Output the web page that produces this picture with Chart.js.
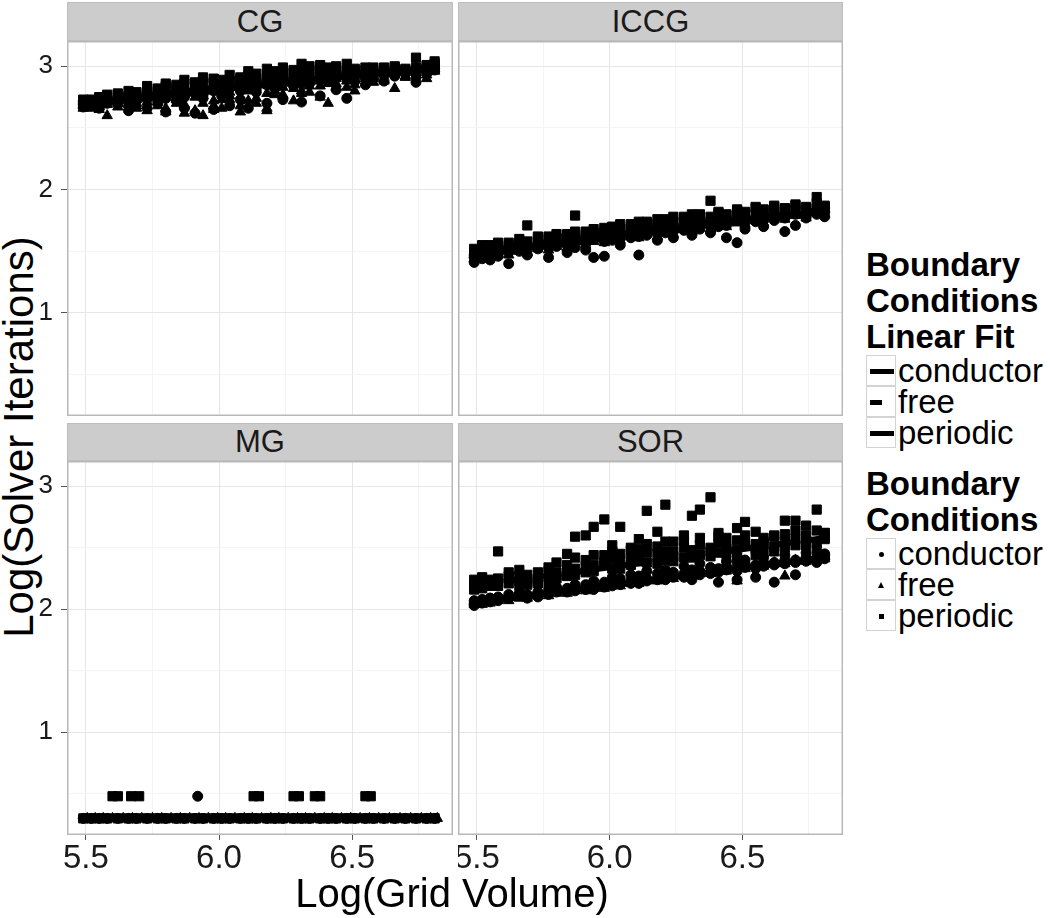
<!DOCTYPE html>
<html lang="en">
<head>
<meta charset="UTF-8">
<title>Solver iterations vs grid volume</title>
<script src="https://cdn.jsdelivr.net/npm/chart.js"></script>
<style>
  body { margin: 0; background: #fff; font-family: 'Liberation Sans', Arial, Helvetica, sans-serif; color: #000; }
  #fig { position: relative; width: 1050px; height: 918px; overflow: hidden; }
  #fig canvas { position: absolute; }
  .strip { position: absolute; box-sizing: border-box; background: #cccccc; border: 1px solid #bdbdbd;
           font-size: 31px; color: #1a1a1a; display: flex; align-items: center; justify-content: center; }
  .ytitle { position: absolute; left: -281px; top: 416px; width: 600px; height: 42px; line-height: 42px;
            font-size: 42px; text-align: center; transform: rotate(-90deg); white-space: nowrap; }
  .xtitle { position: absolute; left: 152px; top: 873px; width: 600px; height: 40px; line-height: 40px;
            font-size: 40px; text-align: center; white-space: nowrap; }
  .legend { position: absolute; left: 866px; }
  .ltitle { font-weight: bold; font-size: 33px; line-height: 36px; white-space: nowrap; }
  .lrow { position: relative; height: 31px; line-height: 31px; font-size: 33px; padding-left: 32px; white-space: nowrap; }
  .key { position: absolute; left: 0; top: 0; width: 30px; height: 31px; box-sizing: border-box; border: 1px solid #d3d3d3; }
  .key i { position: absolute; background: #000; }
  .key .bar { left: 3px; top: 13px; width: 24px; height: 5px; }
  .key .dash { left: 3px; top: 13px; width: 12px; height: 5px; }
  .key .dot { left: 12px; top: 13px; width: 5px; height: 5px; border-radius: 50%; }
  .key .sq { left: 12px; top: 13px; width: 5px; height: 5px; }
  .key .tri { left: 11px; top: 12px; width: 0; height: 0; background: none;
              border-left: 3.5px solid transparent; border-right: 3.5px solid transparent; border-bottom: 6px solid #000; }
</style>
</head>
<body>
<div id="fig">
  <div class="ytitle">Log(Solver Iterations)</div>

  <div class="strip" style="left:67px;top:2px;width:386px;height:39px">CG</div>
  <div class="strip" style="left:458px;top:2px;width:385px;height:39px">ICCG</div>
  <div class="strip" style="left:67px;top:423px;width:386px;height:38px">MG</div>
  <div class="strip" style="left:458px;top:423px;width:385px;height:38px">SOR</div>

  <canvas id="cgChart" width="453" height="375" style="left:0;top:41px"></canvas>
  <canvas id="iccgChart" width="385" height="375" style="left:458px;top:41px"></canvas>
  <canvas id="mgChart" width="453" height="419" style="left:0;top:461px"></canvas>
  <canvas id="sorChart" width="385" height="419" style="left:458px;top:461px"></canvas>

  <div class="xtitle">Log(Grid Volume)</div>

  <div class="legend" style="top:247px">
    <div class="ltitle">Boundary<br>Conditions<br>Linear Fit</div>
    <div class="lrow"><span class="key"><i class="bar"></i></span>conductor</div>
    <div class="lrow"><span class="key"><i class="dash"></i></span>free</div>
    <div class="lrow"><span class="key"><i class="bar"></i></span>periodic</div>
  </div>
  <div class="legend" style="top:466px">
    <div class="ltitle">Boundary<br>Conditions</div>
    <div class="lrow"><span class="key"><i class="dot"></i></span>conductor</div>
    <div class="lrow"><span class="key"><i class="tri"></i></span>free</div>
    <div class="lrow"><span class="key"><i class="sq"></i></span>periodic</div>
  </div>
</div>

<script>
    // log10 of grid volume for each run
    const gridVolume = [5.49, 5.52, 5.55, 5.58, 5.62, 5.66, 5.69, 5.73, 5.77, 5.80, 5.84, 5.87, 5.91,
        5.94, 5.98, 6.01, 6.04, 6.08, 6.11, 6.14, 6.18, 6.21, 6.24, 6.28, 6.31, 6.34, 6.38, 6.41,
        6.44, 6.48, 6.51, 6.55, 6.58, 6.62, 6.66, 6.70, 6.74, 6.78, 6.81];
    const gridVolumeB = [5.505, 5.535, 5.565, 5.60, 5.64, 5.675, 5.71, 5.75, 5.785, 5.82, 5.855, 5.89, 5.925,
        5.96, 5.995, 6.025, 6.06, 6.095, 6.125, 6.16, 6.195, 6.225, 6.26, 6.295, 6.325, 6.36, 6.395, 6.425,
        6.46, 6.495, 6.53, 6.565, 6.60, 6.64, 6.68, 6.72, 6.76, 6.795, 6.82];

    // CG
    const cgCondA = [2.70, 2.68, 2.72, 2.70, 2.74, 2.71, 2.76, 2.73, 2.78, 2.74, 2.80, 2.75, 2.81, 2.77, 2.83, 2.79, 2.84, 2.80, 2.87, 2.82, 2.89, 2.84, 2.90, 2.85, 2.92, 2.87, 2.93, 2.88, 2.95, 2.90, 2.94, 2.91, 2.96, 2.93, 2.97, 2.95, 2.98, 2.96, 3.01];
    const cgCondB = [2.67, 2.69, 2.66, 2.71, 2.69, 2.64, 2.72, 2.66, 2.70, 2.63, 2.72, 2.66, 2.62, 2.74, 2.65, 2.76, 2.68, 2.73, 2.66, 2.79, 2.70, 2.82, 2.73, 2.84, 2.71, 2.86, 2.76, 2.89, 2.81, 2.74, 2.88, 2.85, 2.90, 2.88, 2.92, 2.94, 2.87, 2.95, 2.97];
    const cgCondC = [2.72, 2.71, 2.69, 2.74, 2.72, 2.76, 2.74, 2.78, 2.75, 2.79, 2.77, 2.81, 2.78, 2.83, 2.80, 2.85, 2.82, 2.86, 2.84, 2.88, 2.85, 2.87, 2.88, 2.90, 2.88, 2.91, 2.90, 2.93, 2.91, 2.94, 2.92, 2.95, 2.94, 2.96, 2.95, 2.97, 2.97, 2.99, 2.98];
    const cgFreeA = [2.68, 2.66, 2.70, 2.60, 2.72, 2.69, 2.66, 2.71, 2.74, 2.63, 2.70, 2.62, 2.64, 2.60, 2.72, 2.66, 2.76, 2.63, 2.80, 2.70, 2.64, 2.77, 2.83, 2.72, 2.85, 2.79, 2.88, 2.70, 2.90, 2.83, 2.80, 2.92, 2.87, 2.94, 2.82, 2.96, 2.93, 2.90, 2.98];
    const cgFreeB = [2.71, 2.69, 2.67, 2.73, 2.70, 2.74, 2.70, 2.76, 2.68, 2.78, 2.73, 2.69, 2.79, 2.76, 2.68, 2.81, 2.73, 2.84, 2.72, 2.86, 2.78, 2.83, 2.76, 2.88, 2.80, 2.90, 2.84, 2.92, 2.86, 2.93, 2.89, 2.95, 2.90, 2.88, 2.96, 2.92, 2.99, 2.95, 2.97];
    const cgFreeC = [2.66, 2.68, 2.65, 2.69, 2.67, 2.70, 2.68, 2.64, 2.71, 2.66, 2.74, 2.68, 2.75, 2.70, 2.65, 2.73, 2.79, 2.68, 2.81, 2.74, 2.66, 2.80, 2.77, 2.82, 2.78, 2.84, 2.75, 2.86, 2.83, 2.88, 2.85, 2.90, 2.92, 2.89, 2.94, 2.91, 2.95, 2.93, 2.96];
    const cgPerA = [2.72, 2.73, 2.74, 2.75, 2.77, 2.76, 2.79, 2.82, 2.80, 2.84, 2.83, 2.86, 2.85, 2.88, 2.87, 2.89, 2.88, 2.91, 2.92, 2.90, 2.94, 2.96, 2.93, 2.97, 2.95, 3.00, 2.97, 2.99, 3.00, 2.96, 2.98, 2.97, 2.99, 2.95, 3.00, 2.96, 3.07, 2.98, 3.04];
    const cgPerB = [2.69, 2.71, 2.70, 2.73, 2.72, 2.75, 2.74, 2.77, 2.79, 2.76, 2.81, 2.78, 2.84, 2.80, 2.86, 2.83, 2.88, 2.85, 2.89, 2.87, 2.91, 2.88, 2.95, 2.90, 2.96, 2.92, 2.98, 2.93, 2.97, 2.94, 2.96, 2.93, 2.95, 2.97, 2.99, 2.97, 2.93, 3.00, 3.02];
    const cgPerC = [2.73, 2.70, 2.75, 2.77, 2.78, 2.80, 2.77, 2.84, 2.82, 2.86, 2.85, 2.89, 2.87, 2.91, 2.90, 2.86, 2.93, 2.89, 2.96, 2.94, 2.98, 2.92, 2.99, 2.95, 3.02, 2.97, 3.01, 2.96, 2.99, 3.02, 2.95, 2.99, 2.97, 2.99, 2.97, 2.98, 2.99, 3.01, 3.00];

    // ICCG
    const iccgCondA = [1.45, 1.49, 1.47, 1.52, 1.49, 1.55, 1.51, 1.56, 1.53, 1.58, 1.55, 1.60, 1.56, 1.62, 1.58, 1.64, 1.60, 1.66, 1.62, 1.67, 1.64, 1.69, 1.66, 1.71, 1.67, 1.73, 1.70, 1.74, 1.71, 1.76, 1.73, 1.77, 1.75, 1.79, 1.77, 1.81, 1.79, 1.83, 1.82];
    const iccgCondB = [1.41, 1.44, 1.43, 1.46, 1.40, 1.50, 1.47, 1.52, 1.45, 1.54, 1.49, 1.53, 1.51, 1.45, 1.46, 1.59, 1.55, 1.61, 1.47, 1.63, 1.59, 1.65, 1.61, 1.67, 1.63, 1.68, 1.65, 1.70, 1.61, 1.57, 1.68, 1.74, 1.70, 1.75, 1.66, 1.71, 1.77, 1.80, 1.78];
    const iccgCondC = [1.47, 1.50, 1.48, 1.51, 1.53, 1.52, 1.56, 1.54, 1.57, 1.56, 1.59, 1.58, 1.61, 1.60, 1.63, 1.62, 1.65, 1.64, 1.67, 1.66, 1.69, 1.68, 1.71, 1.70, 1.72, 1.71, 1.74, 1.73, 1.76, 1.75, 1.78, 1.77, 1.80, 1.78, 1.81, 1.80, 1.83, 1.82, 1.85];
    const iccgFreeA = [1.47, 1.46, 1.50, 1.48, 1.52, 1.50, 1.54, 1.52, 1.56, 1.54, 1.58, 1.56, 1.60, 1.58, 1.62, 1.60, 1.64, 1.62, 1.66, 1.64, 1.68, 1.66, 1.70, 1.68, 1.72, 1.69, 1.73, 1.71, 1.75, 1.73, 1.77, 1.75, 1.79, 1.77, 1.81, 1.79, 1.82, 1.81, 1.84];
    const iccgFreeB = [1.44, 1.48, 1.46, 1.50, 1.47, 1.53, 1.49, 1.55, 1.51, 1.57, 1.53, 1.59, 1.55, 1.61, 1.57, 1.63, 1.59, 1.64, 1.61, 1.66, 1.62, 1.68, 1.64, 1.70, 1.66, 1.72, 1.68, 1.73, 1.70, 1.75, 1.72, 1.77, 1.73, 1.78, 1.76, 1.80, 1.77, 1.82, 1.80];
    const iccgPerA = [1.50, 1.53, 1.55, 1.51, 1.57, 1.55, 1.71, 1.58, 1.62, 1.60, 1.64, 1.79, 1.66, 1.64, 1.69, 1.67, 1.72, 1.70, 1.74, 1.72, 1.76, 1.74, 1.78, 1.76, 1.80, 1.78, 1.91, 1.81, 1.79, 1.83, 1.81, 1.85, 1.83, 1.86, 1.84, 1.87, 1.85, 1.94, 1.86];
    const iccgPerB = [1.48, 1.51, 1.49, 1.54, 1.52, 1.57, 1.54, 1.60, 1.56, 1.61, 1.59, 1.63, 1.61, 1.65, 1.63, 1.67, 1.65, 1.69, 1.67, 1.70, 1.69, 1.72, 1.70, 1.74, 1.72, 1.76, 1.74, 1.77, 1.76, 1.79, 1.77, 1.80, 1.79, 1.82, 1.80, 1.84, 1.83, 1.85, 1.84];
    const iccgPerC = [1.52, 1.55, 1.53, 1.57, 1.55, 1.60, 1.58, 1.62, 1.60, 1.64, 1.62, 1.66, 1.64, 1.68, 1.66, 1.70, 1.68, 1.72, 1.70, 1.74, 1.72, 1.76, 1.74, 1.78, 1.76, 1.80, 1.78, 1.82, 1.80, 1.84, 1.82, 1.86, 1.84, 1.87, 1.85, 1.88, 1.86, 1.89, 1.87];

    // MG: almost always 2 iterations, a few runs need 3
    const mgCond = [0.30, 0.30, 0.30, 0.30, 0.30, 0.30, 0.30, 0.30, 0.30, 0.30, 0.30, 0.30, 0.30, 0.30, 0.30, 0.30, 0.30, 0.30, 0.30, 0.30, 0.30, 0.30, 0.30, 0.30, 0.30, 0.30, 0.30, 0.30, 0.30, 0.30, 0.30, 0.30, 0.30, 0.30, 0.30, 0.30, 0.30, 0.30, 0.30];
    const mgFree = [0.30, 0.30, 0.30, 0.30, 0.30, 0.30, 0.30, 0.30, 0.30, 0.30, 0.30, 0.30, 0.30, 0.30, 0.30, 0.30, 0.30, 0.30, 0.30, 0.30, 0.30, 0.30, 0.30, 0.30, 0.30, 0.30, 0.30, 0.30, 0.30, 0.30, 0.30, 0.30, 0.30, 0.30, 0.30, 0.30, 0.30, 0.30, 0.30];
    const mgPer = [0.30, 0.30, 0.30, 0.30, 0.30, 0.30, 0.30, 0.30, 0.30, 0.30, 0.30, 0.30, 0.30, 0.30, 0.30, 0.30, 0.30, 0.30, 0.30, 0.30, 0.30, 0.30, 0.30, 0.30, 0.30, 0.30, 0.30, 0.30, 0.30, 0.30, 0.30, 0.30, 0.30, 0.30, 0.30, 0.30, 0.30, 0.30, 0.30];
    const mgPerHighX = [5.60, 5.62, 5.67, 5.70, 6.13, 6.15, 6.28, 6.30, 6.36, 6.38, 6.55, 6.57];
    const mgPerHighY = [0.48, 0.48, 0.48, 0.48, 0.48, 0.48, 0.48, 0.48, 0.48, 0.48, 0.48, 0.48];
    const mgCondHighX = [5.92];
    const mgCondHighY = [0.48];

    // SOR
    const sorCondA = [2.05, 2.08, 2.06, 2.10, 2.09, 2.11, 2.12, 2.10, 2.15, 2.14, 2.17, 2.15, 2.20, 2.16, 2.22, 2.19, 2.25, 2.21, 2.27, 2.23, 2.29, 2.24, 2.30, 2.26, 2.32, 2.28, 2.34, 2.30, 2.35, 2.31, 2.37, 2.33, 2.38, 2.36, 2.40, 2.38, 2.42, 2.40, 2.44];
    const sorCondB = [2.03, 2.07, 2.09, 2.07, 2.12, 2.13, 2.09, 2.14, 2.12, 2.18, 2.15, 2.20, 2.17, 2.23, 2.19, 2.26, 2.22, 2.28, 2.21, 2.31, 2.25, 2.32, 2.27, 2.35, 2.24, 2.37, 2.29, 2.22, 2.39, 2.24, 2.40, 2.26, 2.42, 2.22, 2.44, 2.28, 2.46, 2.38, 2.45];
    const sorCondC = [2.07, 2.05, 2.09, 2.08, 2.10, 2.12, 2.11, 2.13, 2.13, 2.16, 2.14, 2.18, 2.16, 2.19, 2.18, 2.21, 2.20, 2.23, 2.22, 2.25, 2.24, 2.27, 2.26, 2.29, 2.28, 2.31, 2.30, 2.33, 2.32, 2.35, 2.34, 2.36, 2.35, 2.38, 2.37, 2.40, 2.39, 2.42, 2.41];
    const sorFreeA = [2.06, 2.04, 2.08, 2.07, 2.10, 2.09, 2.12, 2.11, 2.14, 2.13, 2.16, 2.15, 2.18, 2.17, 2.20, 2.19, 2.22, 2.21, 2.24, 2.23, 2.26, 2.25, 2.28, 2.27, 2.30, 2.29, 2.32, 2.31, 2.34, 2.23, 2.36, 2.35, 2.38, 2.37, 2.27, 2.39, 2.41, 2.40, 2.43];
    const sorFreeB = [2.04, 2.06, 2.05, 2.08, 2.07, 2.10, 2.09, 2.12, 2.11, 2.14, 2.13, 2.16, 2.15, 2.18, 2.17, 2.20, 2.19, 2.22, 2.21, 2.24, 2.23, 2.26, 2.25, 2.28, 2.27, 2.30, 2.29, 2.32, 2.31, 2.34, 2.33, 2.36, 2.35, 2.38, 2.37, 2.40, 2.39, 2.42, 2.41];
    const sorPerA = [2.20, 2.17, 2.22, 2.47, 2.30, 2.32, 2.25, 2.23, 2.26, 2.25, 2.45, 2.59, 2.60, 2.67, 2.73, 2.52, 2.67, 2.48, 2.57, 2.80, 2.63, 2.85, 2.55, 2.60, 2.76, 2.81, 2.91, 2.62, 2.58, 2.66, 2.71, 2.63, 2.55, 2.60, 2.72, 2.72, 2.68, 2.81, 2.62];
    const sorPerB = [2.16, 2.20, 2.19, 2.22, 2.21, 2.23, 2.22, 2.24, 2.20, 2.30, 2.32, 2.28, 2.35, 2.31, 2.38, 2.33, 2.40, 2.36, 2.42, 2.38, 2.45, 2.40, 2.47, 2.42, 2.48, 2.44, 2.50, 2.46, 2.51, 2.48, 2.52, 2.49, 2.53, 2.51, 2.55, 2.52, 2.56, 2.54, 2.58];
    const sorPerC = [2.24, 2.26, 2.21, 2.25, 2.27, 2.19, 2.28, 2.30, 2.34, 2.38, 2.27, 2.42, 2.30, 2.44, 2.36, 2.47, 2.33, 2.50, 2.39, 2.53, 2.37, 2.55, 2.43, 2.50, 2.42, 2.58, 2.47, 2.54, 2.45, 2.56, 2.60, 2.44, 2.58, 2.47, 2.61, 2.57, 2.60, 2.48, 2.62];
    const sorPerD = [2.18, 2.23, 2.24, 2.19, 2.25, 2.27, 2.20, 2.21, 2.31, 2.27, 2.36, 2.33, 2.40, 2.36, 2.44, 2.41, 2.45, 2.42, 2.49, 2.46, 2.51, 2.47, 2.39, 2.56, 2.45, 2.52, 2.43, 2.59, 2.49, 2.41, 2.55, 2.53, 2.47, 2.59, 2.50, 2.64, 2.52, 2.64, 2.57];

    // linear fits (end points)
    const fitX = [5.49, 6.81];
    const cgFitCond = [2.70, 2.99], cgFitFree = [2.69, 2.98], cgFitPer = [2.71, 3.00];
    const iccgFitCond = [1.48, 1.83], iccgFitFree = [1.47, 1.82], iccgFitPer = [1.49, 1.84];
    const mgFitCond = [0.30, 0.30], mgFitFree = [0.30, 0.30], mgFitPer = [0.30, 0.30];
    const sorFitCond = [2.05, 2.42], sorFitFree = [2.06, 2.42], sorFitPer = [2.19, 2.58];

    const xMajor = [5.5, 6.0, 6.5], xMinor = [5.75, 6.25, 6.75];
    const yMajor = [1, 2, 3], yMinor = [0.5, 1.5, 2.5];

    const FONT = "'Liberation Sans', Arial, Helvetica, sans-serif";
    Chart.defaults.font.family = FONT;

    function pts(xs, ys) {
        return xs.map((x, i) => ({ x: x, y: ys[i] }));
    }

    const panelBox = {
        id: 'panelBox',
        afterDraw(chart) {
            const a = chart.chartArea;
            const ctx = chart.ctx;
            ctx.save();
            ctx.strokeStyle = '#b8b8b8';
            ctx.lineWidth = 1.5;
            ctx.strokeRect(a.left + 0.75, a.top + 0.75, a.right - a.left - 1.5, a.bottom - a.top - 1.5);
            ctx.restore();
        }
    };

    const shapes = { cond: ['circle', 5], free: ['triangle', 6], per: ['rect', 6.5] };
    const dashes = { cond: [], free: [10, 10], per: [22, 8] };

    function createPanel(id, points, fits, showX, showY) {
        const datasets = [];
        Object.keys(fits).forEach(k => {
            datasets.push({
                type: 'line',
                data: pts(fitX, fits[k]),
                borderColor: '#000',
                borderWidth: 6,
                borderDash: dashes[k],
                pointRadius: 0,
                order: 0
            });
        });
        points.forEach(([k, xs, ys]) => {
            datasets.push({
                type: 'scatter',
                data: pts(xs, ys),
                pointStyle: shapes[k][0],
                pointRadius: shapes[k][1],
                backgroundColor: '#000',
                borderColor: '#000',
                borderWidth: 1,
                order: 1
            });
        });

        const isMajor = (list, v) => list.some(m => Math.abs(m - v) < 1e-9);

        new Chart(document.getElementById(id).getContext('2d'), {
            data: { datasets: datasets },
            options: {
                responsive: false,
                maintainAspectRatio: false,
                animation: false,
                devicePixelRatio: 1,
                layout: { padding: 0, autoPadding: false },
                scales: {
                    x: {
                        type: 'linear',
                        min: 5.429,
                        max: 6.879,
                        afterBuildTicks: s => { s.ticks = xMajor.concat(xMinor).sort().map(v => ({ value: v })); },
                        afterFit: s => { s.height = showX ? 45 : 0; s.paddingLeft = 0; s.paddingRight = 0; },
                        border: { display: false },
                        grid: {
                            color: c => (c.tick && isMajor(xMajor, c.tick.value)) ? '#e6e6e6' : '#f4f4f4',
                            tickColor: c => (c.tick && isMajor(xMajor, c.tick.value)) ? '#555' : 'rgba(0,0,0,0)',
                            drawTicks: showX,
                            tickLength: 5,
                            lineWidth: 1
                        },
                        ticks: {
                            display: showX,
                            autoSkip: false,
                            maxRotation: 0,
                            padding: 2,
                            color: '#1a1a1a',
                            font: { size: 33, lineHeight: 1 },
                            callback: v => isMajor(xMajor, v) ? v.toFixed(1) : ''
                        }
                    },
                    y: {
                        type: 'linear',
                        min: 0.165,
                        max: 3.205,
                        afterBuildTicks: s => { s.ticks = yMajor.concat(yMinor).sort().map(v => ({ value: v })); },
                        afterFit: s => { s.width = showY ? 67 : 0; s.paddingTop = 0; s.paddingBottom = 0; },
                        border: { display: false },
                        grid: {
                            color: c => (c.tick && isMajor(yMajor, c.tick.value)) ? '#e6e6e6' : '#f4f4f4',
                            tickColor: c => (c.tick && isMajor(yMajor, c.tick.value)) ? '#555' : 'rgba(0,0,0,0)',
                            drawTicks: showY,
                            tickLength: 6,
                            lineWidth: 1
                        },
                        ticks: {
                            display: showY,
                            padding: 8,
                            color: '#1a1a1a',
                            font: { size: 26, lineHeight: 1 },
                            callback: v => isMajor(yMajor, v) ? String(v) : ''
                        }
                    }
                },
                plugins: {
                    legend: { display: false },
                    tooltip: { enabled: false }
                }
            },
            plugins: [panelBox]
        });
    }

    createPanel('cgChart', [
        ['cond', gridVolume, cgCondA], ['cond', gridVolume, cgCondB], ['cond', gridVolume, cgCondC],
        ['free', gridVolume, cgFreeA], ['free', gridVolume, cgFreeB], ['free', gridVolume, cgFreeC],
        ['per', gridVolume, cgPerA], ['per', gridVolume, cgPerB], ['per', gridVolume, cgPerC]
    ], { cond: cgFitCond, free: cgFitFree, per: cgFitPer }, false, true);

    createPanel('iccgChart', [
        ['cond', gridVolume, iccgCondA], ['cond', gridVolume, iccgCondB], ['cond', gridVolume, iccgCondC],
        ['free', gridVolume, iccgFreeA], ['free', gridVolume, iccgFreeB],
        ['per', gridVolume, iccgPerA], ['per', gridVolume, iccgPerB], ['per', gridVolume, iccgPerC]
    ], { cond: iccgFitCond, free: iccgFitFree, per: iccgFitPer }, false, false);

    createPanel('mgChart', [
        ['cond', gridVolume, mgCond], ['free', gridVolumeB, mgFree], ['per', gridVolume, mgPer],
        ['per', mgPerHighX, mgPerHighY], ['cond', mgCondHighX, mgCondHighY]
    ], { cond: mgFitCond, free: mgFitFree, per: mgFitPer }, true, true);

    createPanel('sorChart', [
        ['cond', gridVolume, sorCondA], ['cond', gridVolume, sorCondB], ['cond', gridVolume, sorCondC],
        ['free', gridVolume, sorFreeA], ['free', gridVolume, sorFreeB],
        ['per', gridVolume, sorPerA], ['per', gridVolume, sorPerB], ['per', gridVolume, sorPerC], ['per', gridVolume, sorPerD]
    ], { cond: sorFitCond, free: sorFitFree, per: sorFitPer }, true, false);
</script>
</body>
</html>
